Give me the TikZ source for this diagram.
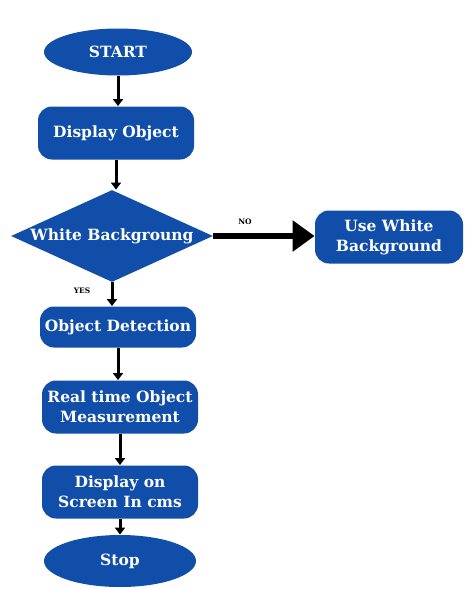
\documentclass[tikz,border=0pt]{standalone}
\usepackage{fontspec}
\setmainfont{DejaVu Serif}
\usetikzlibrary{shapes.geometric,arrows.meta}
\definecolor{flowblue}{RGB}{16,78,170}

\begin{document}
\begin{tikzpicture}[x=1pt, y=-1pt, thick,
    every node/.style={font=\bfseries\fontsize{15.5}{20}\selectfont, text=white, align=center},
    term/.style={ellipse, fill=flowblue, minimum width=148pt, minimum height=47pt, inner sep=0pt},
    proc/.style={rectangle, rounded corners=14pt, fill=flowblue, minimum width=156pt, minimum height=53pt, inner sep=0pt},
    test/.style={diamond, aspect=2.2, fill=flowblue, minimum width=202pt, minimum height=92pt, inner sep=0pt},
    flow/.style={-{Triangle[length=7pt,width=10pt]}, line width=3pt, black},
    bigflow/.style={-{Triangle[length=22pt,width=30pt]}, line width=6pt, black},
    tag/.style={font=\bfseries\fontsize{7.5}{8}\selectfont, text=black}]
      \useasboundingbox (0,0) rectangle (465,589);

      \node[term] (start) at (118,52) {START};
      \node[proc] (show) at (116,133) {Display Object};
      \node[test] (white) at (112,236) {White Backgroung};
      \node[proc, minimum width=148pt] (usewhite) at (389,237) {Use White\\Background};
      \node[proc, minimum height=41pt] (detect) at (118,327) {Object Detection};
      \node[proc] (measure) at (120,407) {Real time Object\\Measurement};
      \node[proc] (screen) at (120,492) {Display on\\Screen In cms};
      \node[term, minimum width=152pt, minimum height=52pt] (stop) at (120,561) {Stop};

      \draw[flow] (start.south) -- (start.south |- show.north);
      \draw[flow] (show.south) -- (show.south |- white.north);
      \draw[bigflow] (white.east) -- (white.east -| usewhite.west);
      \draw[flow] (white.south) -- (white.south |- detect.north);
      \draw[flow] (detect.south) -- (detect.south |- measure.north);
      \draw[flow] (measure.south) -- (measure.south |- screen.north);
      \draw[flow] (screen.south) -- (screen.south |- stop.north);

      \node[tag] at (245,222) {NO};
      \node[tag] at (82,291) {YES};
    \end{tikzpicture}
\end{document}
